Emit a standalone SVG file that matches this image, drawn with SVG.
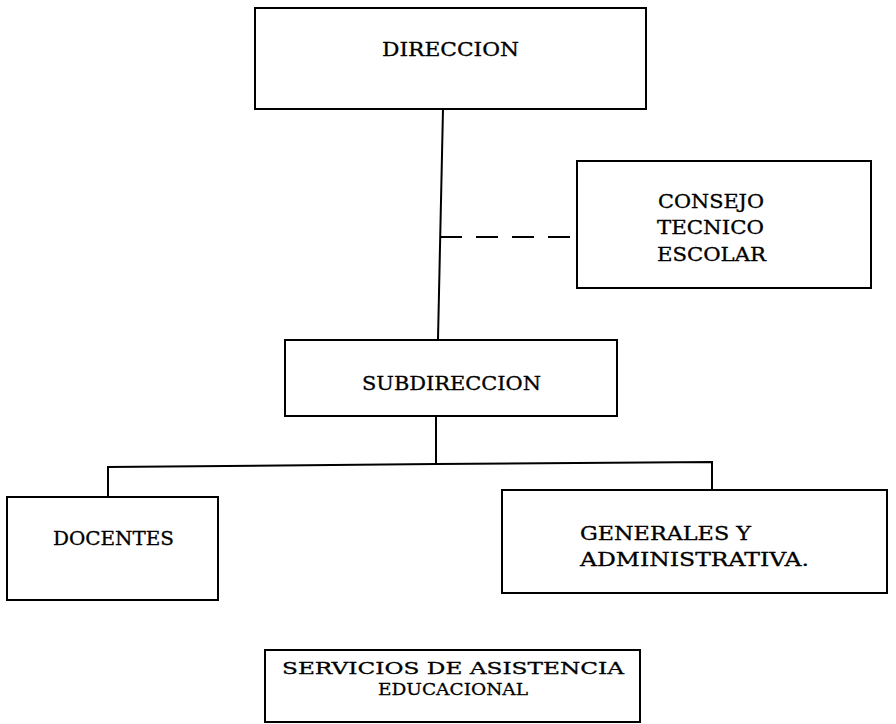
<svg xmlns="http://www.w3.org/2000/svg" width="896" height="724" viewBox="0 0 896 724">
<style>
.box{fill:none;stroke:#000;stroke-width:2}
.ln{fill:none;stroke:#000;stroke-width:2}
.dash{fill:none;stroke:#000;stroke-width:2;stroke-dasharray:22 14}
text{font-family:"DejaVu Serif","Liberation Serif",serif;font-size:18px;fill:#000;stroke:#000;stroke-width:0.3}
.sm{font-size:17px}
</style>
<rect width="896" height="724" fill="#fff"/>
<g id="connectors">
<polyline class="ln" points="443,109 438,339"/>
<line class="dash" x1="440" y1="237" x2="577" y2="237"/>
<line class="ln" x1="436" y1="416" x2="436" y2="464"/>
<polyline class="ln" points="108,497 108,467 436,464 712,462 712,490"/>
</g>
<g id="direccion">
<rect class="box" x="255" y="8" width="391" height="101"/>
<text x="382" y="56" textLength="137" lengthAdjust="spacingAndGlyphs">DIRECCION</text>
</g>
<g id="consejo">
<rect class="box" x="577" y="161" width="294" height="127"/>
<text x="658" y="208" textLength="106" lengthAdjust="spacingAndGlyphs">CONSEJO</text>
<text x="657" y="234" textLength="107" lengthAdjust="spacingAndGlyphs">TECNICO</text>
<text x="657" y="261" textLength="109" lengthAdjust="spacingAndGlyphs">ESCOLAR</text>
</g>
<g id="subdireccion">
<rect class="box" x="285" y="340" width="332" height="76"/>
<text x="362" y="390" textLength="179" lengthAdjust="spacingAndGlyphs">SUBDIRECCION</text>
</g>
<g id="docentes">
<rect class="box" x="7" y="497" width="211" height="103"/>
<text x="53" y="545" textLength="121" lengthAdjust="spacingAndGlyphs">DOCENTES</text>
</g>
<g id="generales">
<rect class="box" x="502" y="490" width="385" height="103"/>
<text x="580" y="540" textLength="171" lengthAdjust="spacingAndGlyphs">GENERALES Y</text>
<text x="580" y="566" textLength="229" lengthAdjust="spacingAndGlyphs">ADMINISTRATIVA.</text>
</g>
<g id="servicios">
<rect class="box" x="265" y="650" width="375" height="72"/>
<text class="sm" x="282" y="674" textLength="342" lengthAdjust="spacingAndGlyphs">SERVICIOS DE ASISTENCIA</text>
<text class="sm" x="378" y="695" textLength="150" lengthAdjust="spacingAndGlyphs">EDUCACIONAL</text>
</g>
</svg>
